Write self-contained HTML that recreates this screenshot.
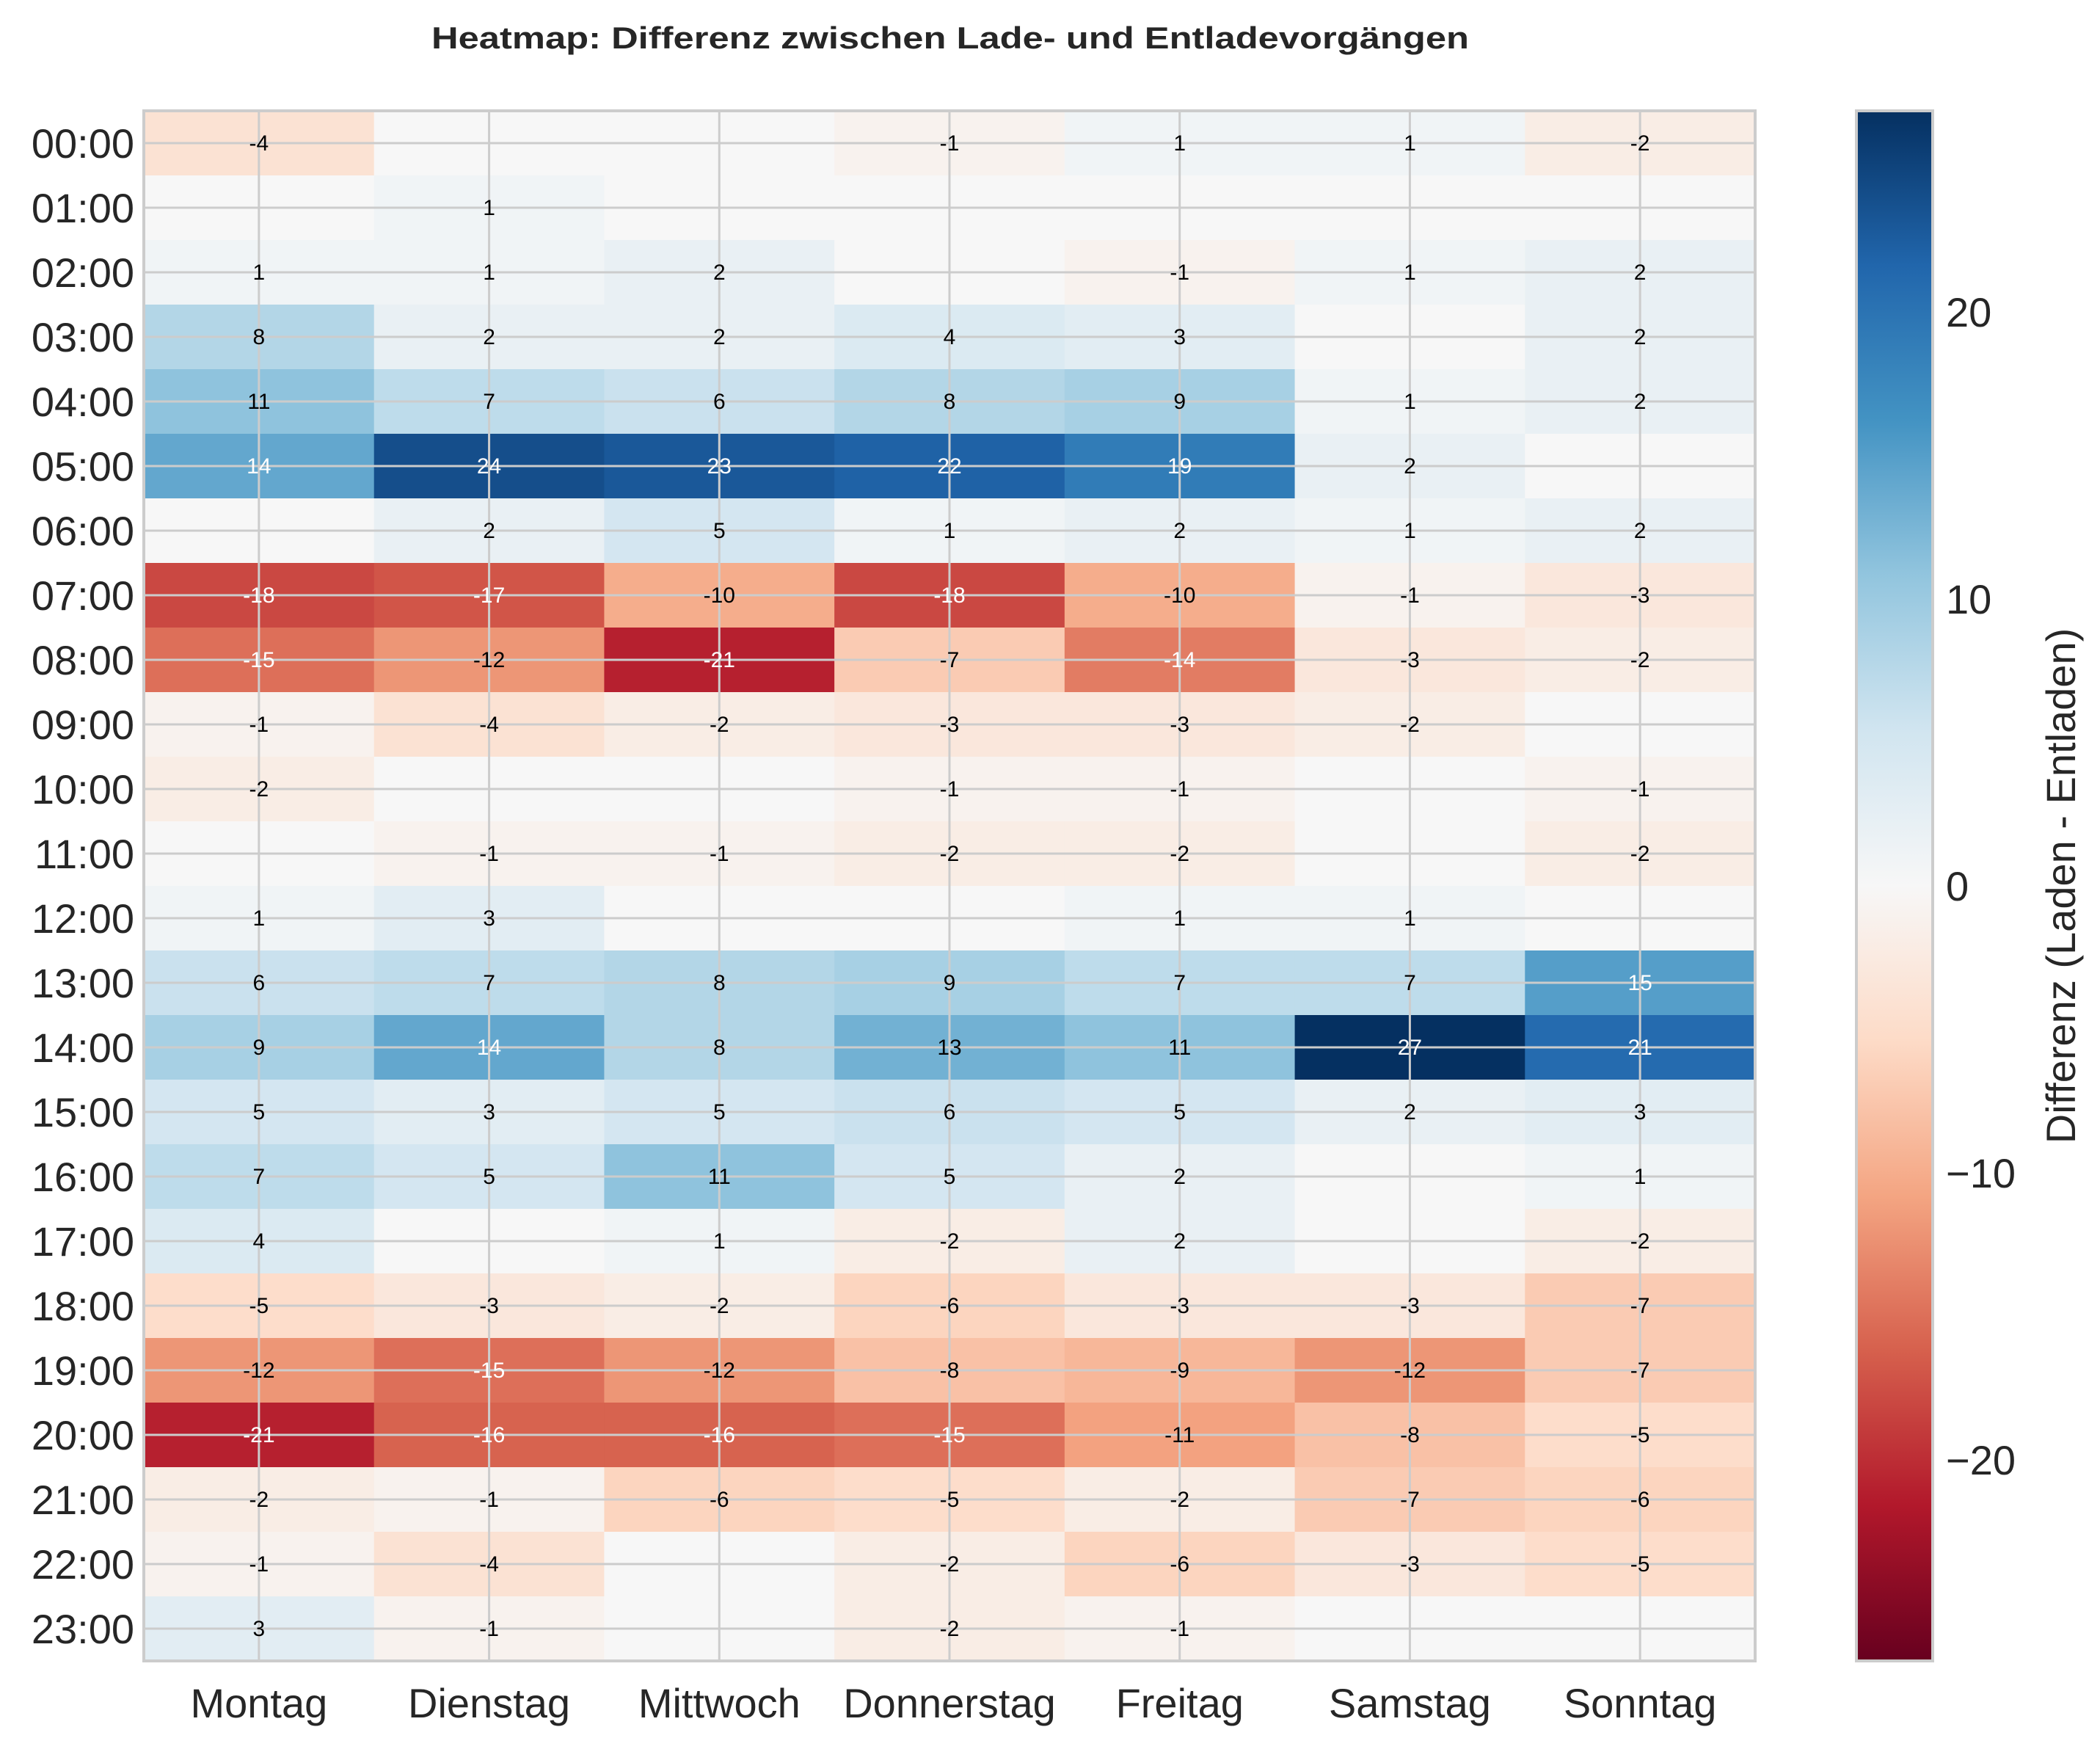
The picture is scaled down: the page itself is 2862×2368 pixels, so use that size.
<!DOCTYPE html>
<html><head><meta charset="utf-8"><style>
html,body{margin:0;padding:0;background:#fff;}
svg{display:block;}
text{font-family:"Liberation Sans",sans-serif;}
</style></head><body>
<svg id="chart" width="2862" height="2368" viewBox="0 0 2862 2368" xmlns="http://www.w3.org/2000/svg">
<text x="1295" y="66" text-anchor="middle" font-size="42" font-weight="bold" fill="#262626" textLength="1414" lengthAdjust="spacingAndGlyphs">Heatmap: Differenz zwischen Lade- und Entladevorgängen</text>
<g id="cells"></g>
<g id="grid"></g>
<g id="annots"></g>
<g id="yticks"></g>
<g id="xticks"></g>
<g id="cbar"></g>
<text transform="translate(2828,1207) rotate(-90)" text-anchor="middle" font-size="56" fill="#262626">Differenz (Laden - Entladen)</text>
</svg>
<script>
const days = ["Montag","Dienstag","Mittwoch","Donnerstag","Freitag","Samstag","Sonntag"];
const hours = ["00:00","01:00","02:00","03:00","04:00","05:00","06:00","07:00","08:00","09:00","10:00","11:00","12:00","13:00","14:00","15:00","16:00","17:00","18:00","19:00","20:00","21:00","22:00","23:00"];
const values = [
[-4,0,0,-1,1,1,-2],
[0,1,0,0,0,0,0],
[1,1,2,0,-1,1,2],
[8,2,2,4,3,0,2],
[11,7,6,8,9,1,2],
[14,24,23,22,19,2,0],
[0,2,5,1,2,1,2],
[-18,-17,-10,-18,-10,-1,-3],
[-15,-12,-21,-7,-14,-3,-2],
[-1,-4,-2,-3,-3,-2,0],
[-2,0,0,-1,-1,0,-1],
[0,-1,-1,-2,-2,0,-2],
[1,3,0,0,1,1,0],
[6,7,8,9,7,7,15],
[9,14,8,13,11,27,21],
[5,3,5,6,5,2,3],
[7,5,11,5,2,0,1],
[4,0,1,-2,2,0,-2],
[-5,-3,-2,-6,-3,-3,-7],
[-12,-15,-12,-8,-9,-12,-7],
[-21,-16,-16,-15,-11,-8,-5],
[-2,-1,-6,-5,-2,-7,-6],
[-1,-4,0,-2,-6,-3,-5],
[3,-1,0,-2,-1,0,0]
];
const cbarTicks = [-20,-10,0,10,20];
const vmin = -27, vmax = 27;

const NS = "http://www.w3.org/2000/svg";
const L = 196, R = 2392, T = 151, B = 2263;
const cw = (R-L)/days.length, ch = (B-T)/hours.length;
const xs = i => L + i*cw, ys = j => T + j*ch;
const stops = ["#67001f","#b2182b","#d6604d","#f4a582","#fddbc7","#f7f7f7","#d1e5f0","#92c5de","#4393c3","#2166ac","#053061"];
function hex(h){return [1,3,5].map(k=>parseInt(h.substr(k,2),16));}
function cmap(v){
  let t = (v-vmin)/(vmax-vmin); t=Math.max(0,Math.min(1,t));
  const p = t*(stops.length-1), i = Math.min(Math.floor(p), stops.length-2), f = p-i;
  const a = hex(stops[i]), b = hex(stops[i+1]);
  return "rgb("+a.map((c,k)=>Math.round(c+(b[k]-c)*f)).join(",")+")";
}
function mk(tag, attrs, parent){
  const e = document.createElementNS(NS, tag);
  for (const k in attrs) e.setAttribute(k, attrs[k]);
  parent.appendChild(e); return e;
}
const cells = document.getElementById("cells"), annots = document.getElementById("annots");
values.forEach((row,j)=>row.forEach((v,i)=>{
  const r = mk("rect",{x:xs(i),y:ys(j),width:cw+0.5,height:ch+0.5,fill:cmap(v)},cells);
  
  
  if (v !== 0){
    const t = mk("text",{x:xs(i)+cw/2,y:ys(j)+ch/2+10,"text-anchor":"middle","font-size":"30",fill:Math.abs(v)>=14?"#ffffff":"#000000"},annots);
    t.textContent = v;
    
    
  }
}));
const grid = document.getElementById("grid");
days.forEach((d,i)=>{ const l=mk("line",{x1:xs(i)+cw/2,x2:xs(i)+cw/2,y1:T,y2:B,stroke:"#cccccc","stroke-width":"3"},grid);
  
   });
hours.forEach((h,j)=>{ const l=mk("line",{x1:L,x2:R,y1:ys(j)+ch/2,y2:ys(j)+ch/2,stroke:"#cccccc","stroke-width":"3"},grid);
  
   });
const fr = mk("rect",{x:L,y:T,width:R-L,height:B-T,fill:"none",stroke:"#cccccc","stroke-width":"4"},grid);


const yt = document.getElementById("yticks");
hours.forEach((h,j)=>{ const t=mk("text",{x:183,y:ys(j)+ch/2+20,"text-anchor":"end","font-size":"56",fill:"#262626"},yt); t.textContent=h;
  
   });
const xt = document.getElementById("xticks");
days.forEach((d,i)=>{ const t=mk("text",{x:xs(i)+cw/2,y:2340,"text-anchor":"middle","font-size":"56",fill:"#262626"},xt); t.textContent=d;
  
   });
const cb = document.getElementById("cbar");
const CL = 2530, CR = 2634;
const defs = mk("defs",{},cb);
const g = mk("linearGradient",{id:"cg",x1:"0",y1:"1",x2:"0",y2:"0"},defs);
stops.forEach((s,k)=>mk("stop",{offset:(k/(stops.length-1)),"stop-color":s},g));
const cr = mk("rect",{x:CL,y:T,width:CR-CL,height:B-T,fill:"url(#cg)",stroke:"#cccccc","stroke-width":"4"},cb);


const cy = v => B - (v-vmin)/(vmax-vmin)*(B-T);
cbarTicks.forEach(v=>{ const t=mk("text",{x:2652,y:cy(v)+20,"font-size":"56",fill:"#262626"},cb); t.textContent=(v<0?"\u2212"+(-v):String(v));
  
   });
</script>
</body></html>
